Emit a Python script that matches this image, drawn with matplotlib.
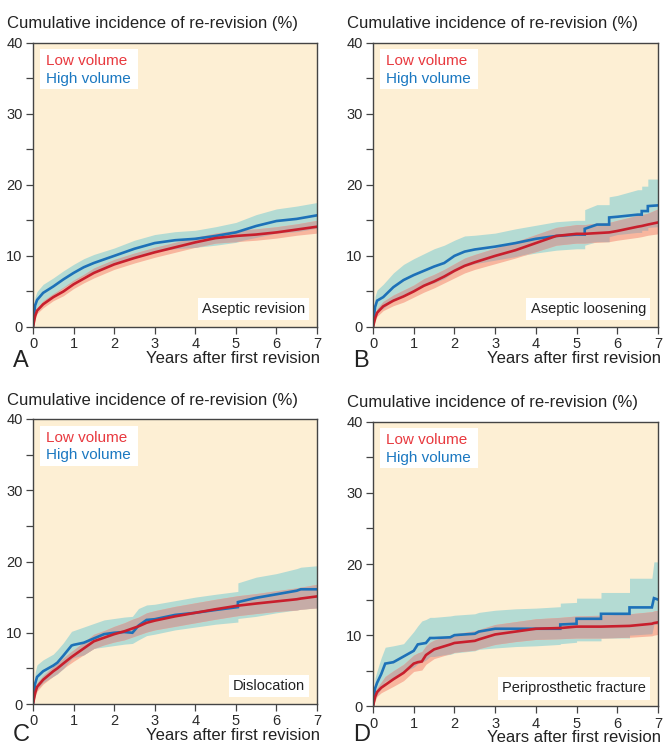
import matplotlib
matplotlib.use('Agg')
import matplotlib.pyplot as plt
from matplotlib.patches import Rectangle
import numpy as np

plt.rcParams['font.family'] = ['Liberation Sans', 'DejaVu Sans']

# ---- data (years, cumulative incidence %) ----
# A: aseptic revision
tA = [0, 0.05, 0.1, 0.25, 0.5, 0.75, 1, 1.25, 1.5, 2, 2.5, 3, 3.5, 4, 4.5, 5, 5.5, 6, 6.5, 7]
hiA = [0, 3.0, 3.8, 4.8, 5.7, 6.7, 7.6, 8.4, 9.0, 10.0, 11.0, 11.8, 12.2, 12.4, 12.8, 13.3, 14.2, 14.9, 15.2, 15.7]
hiA_up = [0, 4.2, 5.0, 6.0, 6.9, 7.9, 8.8, 9.6, 10.2, 11.1, 12.2, 13.0, 13.4, 13.6, 14.1, 14.7, 15.8, 16.6, 17.0, 17.5]
hiA_lo = [0, 1.9, 2.7, 3.6, 4.5, 5.5, 6.4, 7.2, 7.8, 8.9, 9.8, 10.6, 11.0, 11.2, 11.5, 11.9, 12.6, 13.2, 13.4, 13.9]
loA = [0, 1.5, 2.3, 3.2, 4.2, 5.0, 6.0, 6.8, 7.6, 8.8, 9.7, 10.5, 11.2, 11.9, 12.5, 12.8, 13.0, 13.3, 13.7, 14.1]
loA_up = [0, 1.9, 2.7, 3.7, 4.7, 5.6, 6.6, 7.4, 8.3, 9.5, 10.4, 11.2, 11.9, 12.6, 13.2, 13.6, 13.8, 14.1, 14.5, 15.0]
loA_lo = [0, 1.1, 1.9, 2.7, 3.7, 4.4, 5.4, 6.2, 6.9, 8.1, 9.0, 9.8, 10.5, 11.2, 11.8, 12.0, 12.2, 12.5, 12.9, 13.2]

# B: aseptic loosening
tB = [0, 0.05, 0.1, 0.25, 0.5, 0.75, 1, 1.25, 1.5, 1.75, 2, 2.25, 2.5, 3, 3.5, 4, 4.5, 5, 5.2, 5.2,
      5.5, 5.8, 5.8, 6, 6.5, 6.6, 6.6, 6.75, 6.75, 7]
hiB = [0, 2.8, 3.7, 4.2, 5.6, 6.6, 7.3, 7.9, 8.5, 9.0, 10.0, 10.6, 10.9, 11.3, 11.8, 12.4, 12.8, 13.0, 13.0, 13.8,
       14.4, 14.4, 15.4, 15.5, 15.8, 15.8, 16.3, 16.3, 17.0, 17.1]
hiB_up = [0, 4.3, 5.2, 6.0, 7.6, 8.8, 9.6, 10.3, 11.0, 11.5, 12.2, 12.8, 12.9, 13.2, 13.8, 14.3, 14.8, 15.0, 15.0, 16.5,
          17.2, 17.2, 18.3, 18.5, 19.3, 19.3, 19.8, 19.8, 20.8, 20.8]
hiB_lo = [0, 1.3, 2.3, 2.6, 3.8, 4.6, 5.2, 5.8, 6.2, 6.8, 7.8, 8.5, 8.9, 9.4, 9.9, 10.4, 10.8, 11.0, 11.0, 11.5,
          12.0, 12.0, 12.7, 13.0, 13.3, 13.3, 13.6, 13.6, 14.0, 14.1]
loB = [0, 1.2, 2.0, 2.9, 3.7, 4.3, 5.0, 5.8, 6.4, 7.1, 7.9, 8.6, 9.1, 10.0, 10.8, 11.8, 12.8, 13.1, 13.1, 13.1,
       13.2, 13.3, 13.3, 13.5, 14.1, 14.2, 14.2, 14.4, 14.4, 14.7]
loB_up = [0, 1.7, 2.6, 3.6, 4.5, 5.2, 5.9, 6.8, 7.4, 8.1, 8.9, 9.7, 10.2, 11.1, 12.0, 13.0, 14.0, 14.4, 14.4, 14.4,
          14.6, 14.7, 14.7, 15.0, 15.7, 15.8, 15.8, 16.0, 16.0, 16.6]
loB_lo = [0, 0.8, 1.5, 2.3, 3.0, 3.5, 4.2, 4.9, 5.5, 6.2, 6.9, 7.6, 8.1, 8.9, 9.7, 10.6, 11.5, 11.8, 11.8, 11.8,
          11.9, 12.0, 12.0, 12.2, 12.6, 12.7, 12.7, 12.9, 12.9, 13.1]

# C: dislocation
tC = [0, 0.05, 0.1, 0.25, 0.5, 0.6, 0.75, 0.95, 1, 1.25, 1.5, 1.75, 2, 2.25, 2.45, 2.6, 2.8, 3, 3.5, 4, 4.5,
      5.05, 5.05, 5.5, 6, 6.5, 6.6, 7]
hiC = [0, 2.8, 3.8, 4.6, 5.4, 5.8, 6.8, 8.2, 8.3, 8.6, 9.2, 9.8, 10.0, 10.1, 10.0, 11.0, 11.8, 11.9, 12.5, 12.8, 13.2,
       13.6, 14.3, 14.9, 15.4, 15.9, 16.1, 16.1]
hiC_up = [0, 4.4, 5.5, 6.2, 7.0, 7.6, 8.6, 10.2, 10.3, 10.8, 11.3, 11.8, 12.0, 12.2, 12.3, 13.4, 13.9, 14.0, 14.5, 15.0,
          15.4, 15.8, 17.0, 17.8, 18.3, 19.0, 19.2, 19.4]
hiC_lo = [0, 1.2, 2.1, 3.0, 3.9, 4.2, 5.0, 6.3, 6.5, 6.9, 7.8, 8.0, 8.2, 8.4, 8.5, 9.0, 9.6, 9.8, 10.4, 10.8, 11.2,
          11.5, 12.0, 12.3, 12.8, 13.2, 13.3, 13.5]
loC = [0, 1.5, 2.4, 3.4, 4.6, 5.0, 5.7, 6.6, 6.8, 7.8, 8.8, 9.3, 9.8, 10.2, 10.6, 10.9, 11.4, 11.7, 12.3, 12.8, 13.3,
       13.8, 13.8, 14.1, 14.4, 14.7, 14.8, 15.1]
loC_up = [0, 2.0, 3.0, 4.0, 5.3, 5.7, 6.5, 7.4, 7.6, 8.7, 9.8, 10.3, 10.9, 11.4, 11.9, 12.2, 12.8, 13.1, 13.7, 14.2,
          14.7, 15.2, 15.2, 15.5, 15.9, 16.3, 16.4, 16.8]
loC_lo = [0, 1.0, 1.8, 2.8, 3.9, 4.3, 5.0, 5.8, 6.0, 6.9, 7.8, 8.3, 8.7, 9.0, 9.4, 9.7, 10.1, 10.4, 10.9, 11.4,
          11.9, 12.4, 12.4, 12.7, 13.0, 13.2, 13.3, 13.5]

# D: periprosthetic fracture
tD = [0, 0.05, 0.1, 0.2, 0.3, 0.5, 0.75, 1, 1.1, 1.2, 1.3, 1.4, 1.5, 1.9, 2, 2.5, 2.6, 3, 3.5, 4, 4.6, 4.6,
      5, 5, 5.6, 5.6, 6.3, 6.3, 6.85, 6.9, 7]
hiD = [0, 2.5, 3.3, 4.5, 6.0, 6.2, 7.0, 7.8, 8.7, 8.8, 8.9, 9.6, 9.6, 9.7, 10.0, 10.2, 10.5, 10.9, 10.9, 10.9, 10.9,
       11.5, 11.6, 12.3, 12.3, 13.0, 13.0, 13.9, 13.9, 15.2, 15.0]
hiD_up = [0, 4.0, 5.0, 6.8, 8.3, 8.5, 8.8, 10.5, 11.3, 12.0, 12.2, 12.5, 12.5, 12.7, 12.8, 13.0, 13.2, 13.5, 13.7,
          13.8, 14.0, 14.5, 14.6, 15.2, 15.2, 16.0, 16.0, 18.0, 18.0, 20.3, 20.3]
hiD_lo = [0, 1.0, 1.6, 2.5, 3.5, 4.0, 4.8, 5.5, 6.0, 6.2, 6.5, 7.0, 7.0, 7.3, 7.5, 7.8, 8.0, 8.2, 8.4, 8.5, 8.7,
          8.8, 9.0, 9.2, 9.2, 9.6, 9.6, 10.0, 10.2, 11.5, 11.5]
loD = [0, 1.3, 2.0, 2.6, 3.0, 3.8, 4.7, 6.0, 6.2, 6.3, 7.2, 7.6, 8.0, 8.7, 8.9, 9.2, 9.4, 10.1, 10.5, 10.9, 11.0,
       11.0, 11.2, 11.2, 11.2, 11.2, 11.3, 11.3, 11.6, 11.7, 11.8]
loD_up = [0, 1.8, 2.6, 3.4, 4.2, 5.0, 5.9, 7.2, 7.5, 7.7, 8.5, 9.0, 9.3, 10.0, 10.2, 10.6, 10.8, 11.5, 11.9, 12.3,
          12.5, 12.5, 12.7, 12.7, 12.8, 12.8, 13.0, 13.0, 13.3, 13.4, 13.5]
loD_lo = [0, 0.8, 1.4, 1.9, 2.2, 2.8, 3.6, 4.9, 5.0, 5.1, 5.9, 6.3, 6.7, 7.4, 7.6, 7.9, 8.1, 8.7, 9.1, 9.4, 9.5,
          9.5, 9.6, 9.6, 9.6, 9.6, 9.7, 9.7, 9.9, 10.0, 10.1]

panels = [
    ('A', 'Aseptic revision', tA, hiA, hiA_lo, hiA_up, loA, loA_lo, loA_up),
    ('B', 'Aseptic loosening', tB, hiB, hiB_lo, hiB_up, loB, loB_lo, loB_up),
    ('C', 'Dislocation', tC, hiC, hiC_lo, hiC_up, loC, loC_lo, loC_up),
    ('D', 'Periprosthetic fracture', tD, hiD, hiD_lo, hiD_up, loD, loD_lo, loD_up),
]

# axes boxes in pixels: left, top, right, bottom
W, H = 664, 746
boxes = [(33, 42.5, 317, 327), (373, 42.5, 658, 327), (33, 419, 317, 704), (373, 421.7, 658, 706.3)]
# baseline of the panel letter, pixels below the axes bottom
letter_drop = [40, 40, 37, 34.5]

BG = '#fdefd4'
TEAL = '#b4dbd3'
SALMON = '#f8b69e'
OVERLAP = '#c6aca7'
RED_LINE = '#c81f2d'
BLUE_LINE = '#1d71b8'
RED_TXT = '#e8393f'
BLUE_TXT = '#1b78c1'
DARK = '#2a2a2a'

fig = plt.figure(figsize=(W / 100, H / 100), dpi=100)

PT = 0.72  # points per pixel at 100 dpi

for (letter, name, t, hi, hi_lo, hi_up, lo, lo_lo, lo_up), box, drop in zip(panels, boxes, letter_drop):
    l, tp, r, b = box
    ax = fig.add_axes([l / W, 1 - b / H, (r - l) / W, (b - tp) / H])
    ax.set_facecolor(BG)
    t = np.array(t)
    hi_lo, hi_up = np.array(hi_lo), np.array(hi_up)
    lo_lo, lo_up = np.array(lo_lo), np.array(lo_up)

    ax.fill_between(t, hi_lo, hi_up, color=TEAL, lw=0)
    ax.fill_between(t, lo_lo, lo_up, color=SALMON, lw=0)
    ov_lo = np.maximum(hi_lo, lo_lo)
    ov_up = np.minimum(hi_up, lo_up)
    ax.fill_between(t, ov_lo, ov_up, where=ov_up > ov_lo, interpolate=True, color=OVERLAP, lw=0)

    ax.plot(t, hi, color=BLUE_LINE, lw=1.9, solid_joinstyle='miter')
    ax.plot(t, lo, color=RED_LINE, lw=1.9, solid_joinstyle='miter')

    ax.set_xlim(0, 7)
    ax.set_ylim(0, 40)
    ax.set_xticks(range(8))
    ax.set_yticks([0, 10, 20, 30, 40])
    ax.set_yticks([5, 15, 25, 35], minor=True)
    ax.tick_params(axis='both', which='both', direction='out', color='#444444', width=0.9,
                   labelsize=10.5, labelcolor=DARK)
    ax.tick_params(axis='both', which='major', length=5, pad=2.5)
    ax.tick_params(axis='y', which='minor', length=5)
    for sp in ax.spines.values():
        sp.set_color('#444444')
        sp.set_linewidth(1.0)

    axw, axh = r - l, b - tp
    # legend box
    ax.add_patch(Rectangle((7 / axw, 1 - 46.5 / axh), 98 / axw, 40 / axh, transform=ax.transAxes,
                           facecolor='white', edgecolor='none', zorder=5))
    ax.text(12.5 / axw, 1 - 22.5 / axh, 'Low volume', color=RED_TXT, fontsize=11,
            va='baseline', ha='left', transform=ax.transAxes, zorder=6)
    ax.text(12.5 / axw, 1 - 40.5 / axh, 'High volume', color=BLUE_TXT, fontsize=11,
            va='baseline', ha='left', transform=ax.transAxes, zorder=6)

    # cause label
    ax.annotate(name, xy=(1, 0), xycoords='axes fraction', xytext=(-12 * PT, 11 * PT),
                textcoords='offset points', ha='right', va='bottom', fontsize=10.5, color='#222222',
                bbox=dict(boxstyle='square,pad=0.3', facecolor='white', edgecolor='none'), zorder=6)

    # y title above the axes
    ax.annotate('Cumulative incidence of re-revision (%)', xy=(0, 1), xycoords='axes fraction',
                xytext=(-26 * PT, 14.5 * PT), textcoords='offset points', ha='left', va='baseline',
                fontsize=12, color='#222222')
    # x label
    ax.annotate('Years after first revision', xy=(1, 0), xycoords='axes fraction',
                xytext=(3 * PT, -36 * PT), textcoords='offset points', ha='right', va='baseline',
                fontsize=12, color='#222222')
    # panel letter
    ax.annotate(letter, xy=(0, 0), xycoords='axes fraction',
                xytext=(-20 * PT, -drop * PT), textcoords='offset points', ha='left',
                va='baseline', fontsize=17, color='#222222')

fig.savefig('out.png', dpi=100, facecolor='white')
